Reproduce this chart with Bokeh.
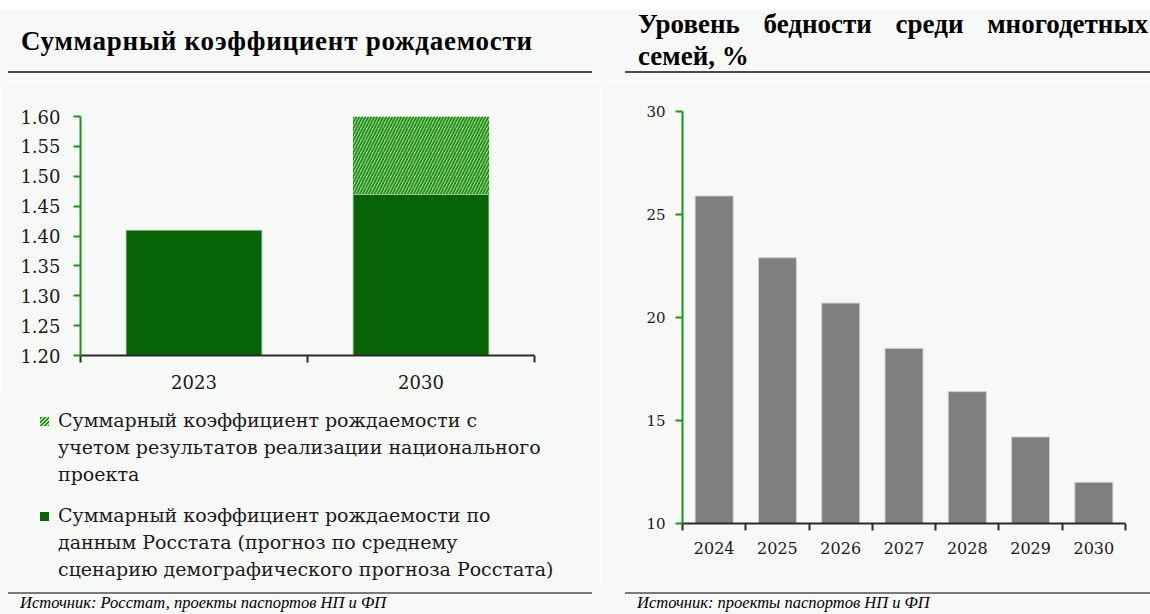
from bokeh.plotting import figure
from bokeh.models import Range1d, FixedTicker, Div
from bokeh.layouts import row, column
from bokeh.embed import file_html
from bokeh.resources import INLINE

# ---------------- data ----------------
tfr_years = ["2023", "2030"]
tfr_rosstat = [1.41, 1.47]          # Росстат, средний сценарий
tfr_np_total = [1.41, 1.60]         # с учетом нацпроекта
tfr_ticks = [1.20, 1.25, 1.30, 1.35, 1.40, 1.45, 1.50, 1.55, 1.60]

pov_years = ["2024", "2025", "2026", "2027", "2028", "2029", "2030"]
pov_values = [25.9, 22.9, 20.7, 18.5, 16.4, 14.2, 12.0]
pov_ticks = [10, 15, 20, 25, 30]

title_left = "Суммарный коэффициент рождаемости"
title_right = "Уровень бедности среди многодетных семей, %"
legend_np = ["Суммарный коэффициент рождаемости с",
             "учетом результатов реализации национального",
             "проекта"]
legend_rs = ["Суммарный коэффициент рождаемости по",
             "данным Росстата (прогноз по среднему",
             "сценарию демографического прогноза Росстата)"]
source_left = "Источник: Росстат, проекты паспортов НП и ФП"
source_right = "Источник: проекты паспортов НП и ФП"

BG = "#f7f9f7"
DKGREEN = "#066306"
LTGREEN = "#a6e484"
HATCH = "#238a23"
AXGREEN = "#1c941c"
GRAY = "#7f7f7f"
TXT = "#1a1a1a"
SERIF = "DejaVu Serif"

W1, W2, H = 600, 550, 614
HEAD, FOOT = 80, 28
CHART1 = 318
LEG1 = H - HEAD - FOOT - CHART1


def box_div(w, h, inner):
    html = (f'<div style="position:relative;width:{w}px;height:{h}px;background:{BG};'
            f'overflow:hidden;margin:0;padding:0;">{inner}</div>')
    return Div(text=html, width=w, height=h, margin=0)


def header(w, inner):
    return box_div(w, HEAD,
                   f'<div style="position:absolute;left:0;top:0;width:{w}px;height:10px;'
                   f'background:#ffffff;"></div>{inner}')


def footer(w, rule_left, rule_right, text_left, s):
    return box_div(w, FOOT,
                   f'<div style="position:absolute;left:{rule_left}px;top:6px;width:{rule_right - rule_left}px;'
                   f'height:2px;background:#7a7a7a;"></div>'
                   f'<div style="position:absolute;left:{text_left}px;top:8px;white-space:nowrap;'
                   f'font-family:\'Liberation Serif\';font-style:italic;font-size:16.5px;line-height:18px;'
                   f'color:#000;">{s}</div>')


def legend_entry(top, swatch_css, lines):
    txt = "<br>".join(lines)
    return (f'<div style="position:absolute;left:40px;top:{top + 10}px;width:9px;height:9px;'
            f'{swatch_css}"></div>'
            f'<div style="position:absolute;left:58px;top:{top}px;white-space:nowrap;'
            f'font-family:\'{SERIF}\';font-size:19px;line-height:27px;color:{TXT};">{txt}</div>')


def style_chart(p):
    p.background_fill_color = BG
    p.border_fill_color = BG
    p.outline_line_color = None
    p.xgrid.grid_line_color = None
    p.ygrid.grid_line_color = None


def style_axes(p, ylab_size, xlab_size, ystand, xstand):
    ya = p.yaxis[0]
    ya.axis_line_color = AXGREEN
    ya.axis_line_width = 2
    ya.major_tick_line_color = AXGREEN
    ya.major_tick_line_width = 2
    ya.major_tick_out = 7
    ya.major_tick_in = 0
    ya.minor_tick_line_color = None
    ya.major_label_standoff = ystand
    ya.major_label_text_font = SERIF
    ya.major_label_text_font_size = ylab_size
    ya.major_label_text_color = TXT
    xa = p.xaxis[0]
    xa.axis_line_color = "#2a2a2a"
    xa.axis_line_width = 2
    xa.major_tick_line_color = None
    xa.major_tick_out = 7
    xa.major_tick_in = 0
    xa.minor_tick_line_color = "#2a2a2a"
    xa.minor_tick_line_width = 2
    xa.minor_tick_out = 7
    xa.minor_tick_in = 0
    xa.major_label_standoff = xstand
    xa.major_label_text_font = SERIF
    xa.major_label_text_font_size = xlab_size
    xa.major_label_text_color = TXT


# ---------------- left panel ----------------
h1 = header(W1,
            f'<div style="position:absolute;left:21px;top:28px;white-space:nowrap;'
            f'font-family:\'Liberation Serif\';font-weight:bold;font-size:27px;line-height:27px;'
            f'letter-spacing:0.75px;color:#000;">{title_left}</div>'
            f'<div style="position:absolute;left:8px;top:71px;width:584px;height:2px;background:#4a4a4a;"></div>')

n1 = len(tfr_years)
x1 = [i + 0.5 for i in range(n1)]
p1 = figure(width=W1, height=CHART1, output_backend="svg", toolbar_location=None,
            x_range=Range1d(0, n1), y_range=Range1d(tfr_ticks[0], tfr_ticks[-1]),
            min_border_left=80, min_border_right=66, min_border_top=36,
            min_border_bottom=43)
style_chart(p1)

p1.vbar(x=x1, top=tfr_rosstat, bottom=tfr_ticks[0], width=0.6,
        fill_color=DKGREEN, line_color="#d8ead8", line_width=1)
p1.vbar(x=x1, top=tfr_np_total, bottom=tfr_rosstat, width=0.6,
        fill_color=LTGREEN, line_color=None, hatch_pattern="right_diagonal_line",
        hatch_color=HATCH, hatch_scale=6, hatch_weight=1.8)

style_axes(p1, "18px", "18px", 13, 12)
p1.yaxis[0].ticker = FixedTicker(ticks=tfr_ticks)
p1.yaxis[0].major_label_overrides = {t: f"{t:.2f}" for t in tfr_ticks}
p1.xaxis[0].ticker = FixedTicker(ticks=x1, minor_ticks=list(range(n1 + 1)))
p1.xaxis[0].major_label_overrides = {x: y for x, y in zip(x1, tfr_years)}

hatch_css = (f'background:repeating-linear-gradient(135deg,{HATCH} 0px,{HATCH} 1.5px,'
             f'{LTGREEN} 1.5px,{LTGREEN} 3px);')
solid_css = f'background:{DKGREEN};'
leg1 = box_div(W1, LEG1,
               legend_entry(9, hatch_css, legend_np) + legend_entry(104, solid_css, legend_rs))

f1 = footer(W1, 8, 592, 20, source_left)

# ---------------- right panel ----------------
h2 = header(W2,
            f'<div style="position:absolute;left:38px;top:8px;width:510px;text-align:justify;'
            f'font-family:\'Liberation Serif\';font-weight:bold;font-size:27px;line-height:32px;'
            f'color:#000;">{title_right}</div>'
            f'<div style="position:absolute;left:25px;top:71px;width:525px;height:2px;background:#4a4a4a;"></div>')

n2 = len(pov_years)
x2 = [i + 0.5 for i in range(n2)]
p2 = figure(width=W2, height=H - HEAD - FOOT, output_backend="svg", toolbar_location=None,
            x_range=Range1d(0, n2), y_range=Range1d(pov_ticks[0], pov_ticks[-1]),
            min_border_left=82, min_border_right=25, min_border_top=31,
            min_border_bottom=63)
style_chart(p2)
p2.vbar(x=x2, top=pov_values, bottom=pov_ticks[0], width=0.6,
        fill_color=GRAY, line_color="#c8cfc8", line_width=1)
style_axes(p2, "15px", "16px", 10, 11)
p2.yaxis[0].ticker = FixedTicker(ticks=pov_ticks)
p2.xaxis[0].ticker = FixedTicker(ticks=x2, minor_ticks=list(range(n2 + 1)))
p2.xaxis[0].major_label_overrides = {x: y for x, y in zip(x2, pov_years)}

f2 = footer(W2, 25, 550, 37, source_right)

layout = row(column(h1, p1, leg1, f1), column(h2, p2, f2))
open("out.html", "w").write(file_html(layout, INLINE))
